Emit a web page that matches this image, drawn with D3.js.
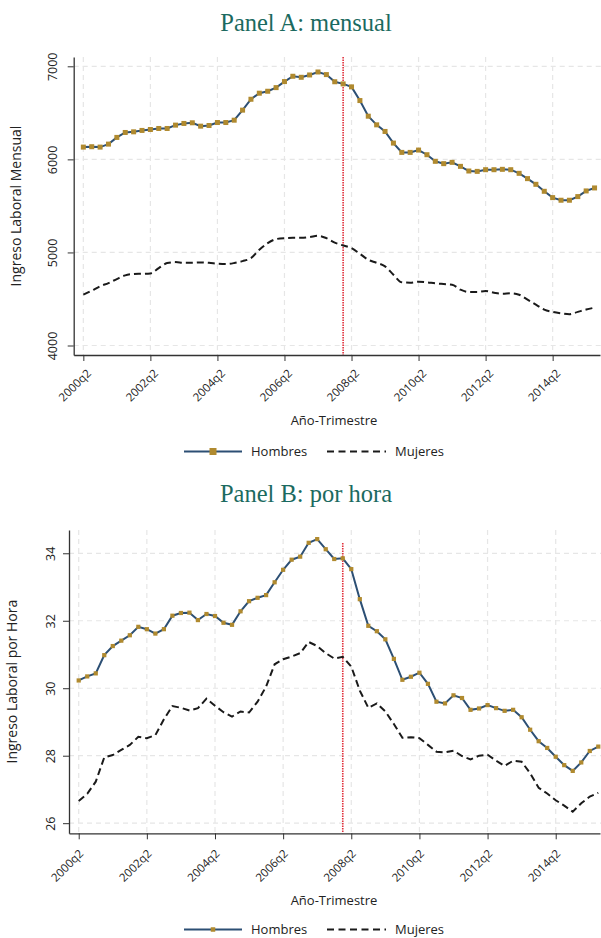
<!DOCTYPE html>
<html>
  <head>
    <meta charset="utf-8">
    <script src="https://d3js.org/d3.v7.min.js"></script>
    <title>Ingreso laboral por sexo</title>
    <style>
      body { margin: 0; background: #fff; }
      .tick line { stroke: #333; }
      .domain { stroke: #333; }
    </style>
  </head>
  <body>
    <div id="plot"></div>
    <script>

    // quarters 2000q2 .. 2015q3
    const quarters = [
      "2000q2","2000q3","2000q4","2001q1","2001q2","2001q3","2001q4","2002q1",
      "2002q2","2002q3","2002q4","2003q1","2003q2","2003q3","2003q4","2004q1",
      "2004q2","2004q3","2004q4","2005q1","2005q2","2005q3","2005q4","2006q1",
      "2006q2","2006q3","2006q4","2007q1","2007q2","2007q3","2007q4","2008q1",
      "2008q2","2008q3","2008q4","2009q1","2009q2","2009q3","2009q4","2010q1",
      "2010q2","2010q3","2010q4","2011q1","2011q2","2011q3","2011q4","2012q1",
      "2012q2","2012q3","2012q4","2013q1","2013q2","2013q3","2013q4","2014q1",
      "2014q2","2014q3","2014q4","2015q1","2015q2","2015q3"];

    const xTickLabels = ["2000q2","2002q2","2004q2","2006q2","2008q2","2010q2","2012q2","2014q2"];
    const crisisQuarter = "2008q1";

    // Panel A: ingreso mensual
    const hombresMensual = [
      6132, 6136, 6132, 6164, 6236, 6289, 6296, 6311, 6321, 6332,
      6332, 6368, 6386, 6393, 6357, 6364, 6396, 6396, 6421, 6529,
      6646, 6711, 6732, 6771, 6836, 6893, 6882, 6907, 6939, 6911,
      6834, 6811, 6779, 6632, 6464, 6371, 6300, 6175, 6075, 6075,
      6100, 6050, 5979, 5954, 5968, 5925, 5875, 5871, 5889, 5889,
      5893, 5889, 5850, 5793, 5732, 5657, 5589, 5561, 5561, 5600,
      5661, 5693];
    const mujeresMensual = [
      4546, 4589, 4636, 4671, 4714, 4754, 4768, 4771, 4775, 4832,
      4886, 4896, 4889, 4889, 4893, 4889, 4879, 4875, 4886, 4907,
      4939, 5029, 5100, 5143, 5154, 5157, 5157, 5164, 5179, 5154,
      5105, 5075, 5046, 4986, 4921, 4889, 4850, 4761, 4679, 4675,
      4686, 4679, 4668, 4661, 4654, 4600, 4575, 4575, 4586, 4568,
      4557, 4561, 4546, 4493, 4439, 4386, 4361, 4346, 4336, 4361,
      4386, 4407];
    const yTicksMensual = [4000, 5000, 6000, 7000];

    // Panel B: ingreso por hora
    const hombresHora = [
      30.23, 30.35, 30.44, 30.98, 31.25, 31.41, 31.57, 31.82, 31.75, 31.62,
      31.75, 32.15, 32.23, 32.24, 32.02, 32.20, 32.14, 31.94, 31.88, 32.28,
      32.58, 32.68, 32.76, 33.14, 33.51, 33.81, 33.90, 34.31, 34.42, 34.12,
      33.83, 33.85, 33.53, 32.64, 31.85, 31.69, 31.45, 30.87, 30.25, 30.34,
      30.46, 30.13, 29.60, 29.55, 29.79, 29.71, 29.36, 29.40, 29.50, 29.41,
      29.33, 29.36, 29.14, 28.77, 28.43, 28.23, 27.97, 27.72, 27.55, 27.80,
      28.14, 28.27];
    const mujeresHora = [
      26.66, 26.87, 27.23, 27.95, 28.02, 28.17, 28.32, 28.56, 28.52, 28.61,
      29.08, 29.47, 29.42, 29.34, 29.41, 29.69, 29.48, 29.29, 29.16, 29.31,
      29.28, 29.60, 30.05, 30.71, 30.86, 30.94, 31.04, 31.37, 31.25, 31.04,
      30.88, 30.93, 30.64, 29.93, 29.42, 29.55, 29.31, 28.94, 28.53, 28.55,
      28.52, 28.32, 28.12, 28.10, 28.15, 27.99, 27.89, 28.00, 28.03, 27.85,
      27.70, 27.85, 27.82, 27.48, 27.05, 26.88, 26.68, 26.52, 26.34, 26.59,
      26.79, 26.90];
    const yTicksHora = [26, 28, 30, 32, 34];

    const navy = "#2c4f74", gold = "#b08a2f", teal = "#1b6a60";
    const sans = "'Open Sans', 'Noto Sans', sans-serif";

    const svg = d3.select("#plot")
      .append("svg")
        .attr("width", 601)
        .attr("height", 938)
        .style("display", "block");

    function drawPanel(p) {
      const g = svg.append("g");

      // title
      g.append("text")
        .attr("x", 306)
        .attr("y", p.titleY)
        .attr("text-anchor", "middle")
        .style("font-family", "'Liberation Serif', serif")
        .style("font-size", "24.5px")
        .style("fill", teal)
        .text(p.title);

      const x = d3.scaleLinear()
        .domain(p.xDomain)
        .range([p.left, 600]);
      const y = d3.scaleLinear()
        .domain(p.yDomain)
        .range([p.bottom, p.top]);
      const xi = q => x(quarters.indexOf(q));

      // grids
      g.append("g")
        .selectAll("line.h")
        .data(p.yTicks)
        .enter().append("line")
          .attr("x1", p.left).attr("x2", 601)
          .attr("y1", d => y(d)).attr("y2", d => y(d))
          .attr("stroke", "#e6e6e6").attr("stroke-width", 1.2)
          .attr("stroke-dasharray", "5 4");
      g.append("g")
        .selectAll("line.v")
        .data(xTickLabels)
        .enter().append("line")
          .attr("x1", d => xi(d)).attr("x2", d => xi(d))
          .attr("y1", p.top).attr("y2", p.bottom)
          .attr("stroke", "#e6e6e6").attr("stroke-width", 1.2)
          .attr("stroke-dasharray", "5 4");

      // crisis line (2008q1)
      g.append("line")
        .attr("x1", xi(crisisQuarter)).attr("x2", xi(crisisQuarter))
        .attr("y1", p.redTop).attr("y2", p.bottom)
        .style("stroke", "#e0303c").style("stroke-width", 1.6)
        .style("stroke-dasharray", "1.5 1");

      // axes
      const xAxis = g.append("g")
        .attr("transform", "translate(0," + p.bottom + ")")
        .call(d3.axisBottom(x)
          .tickValues(xTickLabels.map(d => quarters.indexOf(d)))
          .tickFormat(i => quarters[i])
          .tickSize(6)
          .tickSizeOuter(0));
      xAxis.selectAll("text")
        .attr("x", 0).attr("y", 0).attr("dy", 0)
        .attr("text-anchor", "end")
        .attr("transform", "translate(" + p.xLabDx + "," + p.xLabDy + ") rotate(-45)")
        .style("font-family", sans)
        .style("font-size", "11.5px")
        .style("fill", "#222");

      const yAxis = g.append("g")
        .attr("transform", "translate(" + p.left + ",0)")
        .call(d3.axisLeft(y)
          .tickValues(p.yTicks)
          .tickFormat(d3.format("d"))
          .tickSize(6)
          .tickSizeOuter(0));
      yAxis.selectAll("text")
        .attr("x", 0).attr("y", p.yLabDy).attr("dy", 0)
        .attr("text-anchor", "middle")
        .attr("transform", "rotate(-90)")
        .style("font-family", sans)
        .style("font-size", "12.5px")
        .style("fill", "#222");
      xAxis.select(".domain").attr("stroke-width", 1.3);
      yAxis.select(".domain").attr("stroke-width", 1.3);

      // axis titles
      g.append("text")
        .attr("transform", "translate(" + p.yTitleX + "," + ((p.top + p.bottom) / 2) + ") rotate(-90)")
        .attr("text-anchor", "middle")
        .style("font-family", sans)
        .style("font-size", "14px")
        .style("fill", "#222")
        .text(p.yTitle);
      g.append("text")
        .attr("x", 334)
        .attr("y", p.xTitleY)
        .attr("text-anchor", "middle")
        .style("font-family", sans)
        .style("font-size", "13px")
        .style("fill", "#222")
        .text("Año-Trimestre");

      // lines
      const mujeresLine = d3.line()
        .x((d, i) => x(i))
        .y(d => y(d))
        .curve(p.smooth ? d3.curveMonotoneX : d3.curveLinear);
      g.append("path")
        .datum(p.mujeres)
        .attr("d", mujeresLine)
        .attr("fill", "none")
        .attr("stroke", "#1a1a1a")
        .attr("stroke-width", 2)
        .attr("stroke-dasharray", "7 4");

      const hombresLine = d3.line()
        .x((d, i) => x(i))
        .y(d => y(d));
      g.append("path")
        .datum(p.hombres)
        .attr("d", hombresLine)
        .attr("fill", "none")
        .attr("stroke", navy)
        .attr("stroke-width", 2);
      g.selectAll("rect.m")
        .data(p.hombres)
        .enter().append("rect")
          .attr("x", (d, i) => x(i) - p.ms / 2)
          .attr("y", d => y(d) - p.ms / 2)
          .attr("width", p.ms)
          .attr("height", p.ms)
          .attr("fill", gold);

      // legend
      const ly = p.legendY;
      g.append("line")
        .attr("x1", 184).attr("x2", 242).attr("y1", ly).attr("y2", ly)
        .attr("stroke", navy).attr("stroke-width", 2);
      g.append("rect")
        .attr("x", 213 - p.lms / 2).attr("y", ly - p.lms / 2)
        .attr("width", p.lms).attr("height", p.lms)
        .attr("fill", gold);
      g.append("text")
        .attr("x", 251).attr("y", ly + 4.5)
        .style("font-family", sans).style("font-size", "13px").style("fill", "#222")
        .text("Hombres");
      g.append("line")
        .attr("x1", 327).attr("x2", 386).attr("y1", ly).attr("y2", ly)
        .attr("stroke", "#1a1a1a").attr("stroke-width", 2)
        .attr("stroke-dasharray", "7 4.5");
      g.append("text")
        .attr("x", 395).attr("y", ly + 4.5)
        .style("font-family", sans).style("font-size", "13px").style("fill", "#222")
        .text("Mujeres");
    }

    drawPanel({
      title: "Panel A: mensual", titleY: 31,
      top: 57, bottom: 355, left: 73.7,
      xDomain: [-1.15, 61.65], yDomain: [3898, 7100],
      yTicks: yTicksMensual,
      hombres: hombresMensual, mujeres: mujeresMensual, smooth: true,
      redTop: 57,
      xLabDx: 8, xLabDy: 19, yLabDy: -17,
      yTitle: "Ingreso Laboral Mensual", yTitleX: 21,
      xTitleY: 425, legendY: 451.5,
      ms: 5, lms: 7
    });

    drawPanel({
      title: "Panel B: por hora", titleY: 502,
      top: 530, bottom: 833.3, left: 69,
      xDomain: [-1.14, 61.2], yDomain: [25.7, 34.69],
      yTicks: yTicksHora,
      hombres: hombresHora, mujeres: mujeresHora, smooth: false,
      redTop: 543,
      xLabDx: 5, xLabDy: 21, yLabDy: -14,
      yTitle: "Ingreso Laboral por Hora", yTitleX: 17,
      xTitleY: 905, legendY: 929.5,
      ms: 4.2, lms: 4.5
    });

    </script>
  </body>
</html>
